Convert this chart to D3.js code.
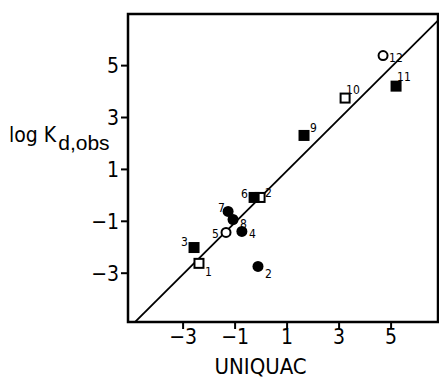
<!DOCTYPE html>
<html>
<head>
<meta charset="utf-8">
<script src="https://cdn.jsdelivr.net/npm/d3@7"></script>
<style>
  body { margin: 0; background: #fff; }
  svg { display: block; }
  .narrow { font-family: "Liberation Sans Narrow", "Arial Narrow", "DejaVu Sans Condensed", sans-serif; }
</style>
</head>
<body>
<svg id="chart" width="439" height="380"></svg>
<script>
const pointIds = ['1', '2', '2', '3', '4', '5', '6', '7', '8', '9', '10', '11', '12'];
const uniquac  = [-2.37, -0.10, -0.02, -2.56, -0.72, -1.33, -0.25, -1.25, -1.06, 1.67, 3.25, 5.21, 4.71];
const logKdObs = [-2.64, -2.76, -0.10, -2.03, -1.41, -1.45, -0.10, -0.64, -0.95, 2.29, 3.73, 4.19, 5.37];
// marker kind: fs = filled square, os = open square, fc = filled circle, oc = open circle
const markerKind = ['os', 'fc', 'os', 'fs', 'fc', 'oc', 'fs', 'fc', 'fc', 'fs', 'os', 'fs', 'oc'];

// diagonal line
const lineX = [-4.9, 6.95];
const lineY = [-4.97, 6.85];

const xTicks = [-3, -1, 1, 3, 5];
const yTicks = [-3, -1, 1, 3, 5];

// label offsets (px) relative to each point
const labelDx = [6, 7, 5, -13, 7, -14, -13, -10, 7, 6, 1, 1, 6];
const labelDy = [8, 7, -5, -6, 2, 1, -4, -4, 4, -8, -8, -9, 2];

const svg = d3.select('#chart');
const plotLeft = 128, plotRight = 438, plotTop = 14, plotBottom = 322;

const x = d3.scaleLinear().domain([-5.1, 6.9]).range([plotLeft, plotLeft + 312]);
const y = d3.scaleLinear().domain([-4.9, 6.97]).range([plotBottom, plotTop]);

svg.append('defs').append('clipPath').attr('id', 'plotclip')
    .append('rect').attr('x', plotLeft).attr('y', plotTop)
    .attr('width', plotRight - plotLeft).attr('height', plotBottom - plotTop);

// frame
svg.append('rect')
    .attr('x', plotLeft).attr('y', plotTop)
    .attr('width', plotRight - plotLeft).attr('height', plotBottom - plotTop)
    .attr('fill', 'none').attr('stroke', '#000').attr('stroke-width', 2.5);

const minus = d => d < 0 ? '\u2212' + Math.abs(d) : d;

// axes
const xAxis = svg.append('g')
    .attr('transform', 'translate(0,' + plotBottom + ')')
    .call(d3.axisBottom(x).tickValues(xTicks).tickSize(7).tickSizeOuter(0).tickFormat(minus));
xAxis.select('.domain').remove();
xAxis.selectAll('line').attr('stroke-width', 2);
xAxis.selectAll('text')
    .attr('class', 'narrow')
    .attr('font-size', 21).attr('fill', '#000')
    .attr('dy', '0.55em');

const yAxis = svg.append('g')
    .attr('transform', 'translate(' + plotLeft + ',0)')
    .call(d3.axisLeft(y).tickValues(yTicks).tickSize(7).tickSizeOuter(0).tickFormat(minus));
yAxis.select('.domain').remove();
yAxis.selectAll('line').attr('stroke-width', 2);
yAxis.selectAll('text')
    .attr('class', 'narrow')
    .attr('font-size', 21).attr('fill', '#000')
    .attr('x', -9).attr('dy', '0.36em');

// axis titles
svg.append('text')
    .attr('class', 'narrow')
    .attr('x', x(0)).attr('y', 374)
    .attr('text-anchor', 'middle')
    .attr('font-size', 22)
    .text('UNIQUAC');

const yTitle = svg.append('text')
    .attr('x', 9).attr('y', 142)
    .attr('font-size', 21);
yTitle.append('tspan').attr('class', 'narrow').text('log K');
yTitle.append('tspan')
    .attr('font-family', '"Liberation Sans", Arial, sans-serif')
    .attr('dx', 2).attr('dy', 8)
    .text('d,obs');

// diagonal
svg.append('line')
    .attr('clip-path', 'url(#plotclip)')
    .attr('x1', x(lineX[0])).attr('y1', y(lineY[0]))
    .attr('x2', x(lineX[1])).attr('y2', y(lineY[1]))
    .attr('stroke', '#000').attr('stroke-width', 1.8);

// points
const points = pointIds.map((id, i) => ({ id: id, ux: uniquac[i], uy: logKdObs[i], kind: markerKind[i], dx: labelDx[i], dy: labelDy[i] }));

const marks = svg.append('g').selectAll('g.pt')
    .data(points)
    .enter()
    .append('g')
    .attr('class', 'pt')
    .attr('transform', d => 'translate(' + x(d.ux) + ',' + y(d.uy) + ')');

marks.filter(d => d.kind === 'fs' || d.kind === 'os')
    .append('rect')
    .attr('x', d => d.kind === 'fs' ? -5.5 : -4.5)
    .attr('y', d => d.kind === 'fs' ? -5.5 : -4.5)
    .attr('width', d => d.kind === 'fs' ? 11 : 9)
    .attr('height', d => d.kind === 'fs' ? 11 : 9)
    .attr('fill', d => d.kind === 'fs' ? '#000' : '#fff')
    .attr('stroke', '#000')
    .attr('stroke-width', d => d.kind === 'fs' ? 0 : 2);

marks.filter(d => d.kind === 'fc' || d.kind === 'oc')
    .append('circle')
    .attr('r', d => d.kind === 'fc' ? 5.5 : 4.5)
    .attr('fill', d => d.kind === 'fc' ? '#000' : '#fff')
    .attr('stroke', '#000')
    .attr('stroke-width', d => d.kind === 'fc' ? 0 : 2);

marks.append('text')
    .attr('class', 'narrow')
    .attr('x', d => d.dx).attr('y', d => d.dy)
    .attr('dy', '0.35em')
    .attr('font-size', 12)
    .attr('fill', '#000')
    .text(d => d.id);
</script>
</body>
</html>
